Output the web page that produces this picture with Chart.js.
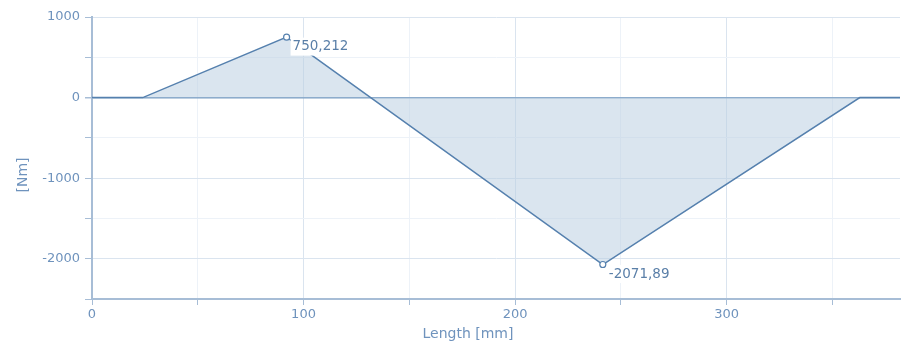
<!DOCTYPE html>
<html>
<head>
<meta charset="utf-8">
<script src="https://cdn.jsdelivr.net/npm/chart.js@4/dist/chart.umd.min.js"></script>
<style>
  html, body { margin: 0; padding: 0; background: #ffffff; }
  #wrap { width: 902px; height: 347px; position: relative; }
</style>
</head>
<body>
<div id="wrap"><canvas id="c"></canvas></div>
<script>
// Bending moment along the beam
const positions = [0, 24, 92, 241.5, 363, 382];      // Length [mm]
const moments   = [0, 0, 750.212, -2071.89, 0, 0];   // [Nm]
const labelledPoints = [2, 3];                        // indices with value labels
const xTickStep = 50;
const yTickStep = 500;
const yTitle = '[Nm]';
const xTitle = 'Length [mm]';

const axisBlue = '#a7bdd6';
const textBlue = '#6f93bd';
const lineBlue = '#5580ae';
const fontFamily = '"DejaVu Sans", Verdana, sans-serif';

const points = positions.map((x, i) => ({ x: x, y: moments[i] }));

// value labels next to the extreme points, plus both axis titles
const annotations = {
  id: 'annotations',
  afterDatasetsDraw(chart) {
    const ctx = chart.ctx;
    const meta = chart.getDatasetMeta(0);
    ctx.save();
    ctx.font = '13.5px ' + fontFamily;
    ctx.textBaseline = 'middle';
    labelledPoints.forEach(i => {
      const el = meta.data[i];
      const txt = moments[i].toString().replace('.', ',');
      const w = ctx.measureText(txt).width;
      const tx = el.x + 6, ty = el.y + 9.5;
      ctx.fillStyle = '#ffffff';
      ctx.fillRect(tx - 2, ty - 9, w + 4, 18);
      ctx.fillStyle = '#5a7fa8';
      ctx.fillText(txt, tx, ty);
    });
    ctx.restore();

    ctx.save();
    ctx.font = '14px ' + fontFamily;
    ctx.fillStyle = textBlue;
    ctx.textAlign = 'center';
    ctx.textBaseline = 'middle';
    ctx.fillText(xTitle, 468, 334);
    ctx.translate(23, 175);
    ctx.rotate(-Math.PI / 2);
    ctx.fillText(yTitle, 0, 0);
    ctx.restore();
  }
};

new Chart(document.getElementById('c'), {
  type: 'scatter',
  data: {
    datasets: [{
      data: points,
      showLine: true,
      borderColor: lineBlue,
      borderWidth: 1.5,
      backgroundColor: 'rgba(188, 208, 226, 0.55)',
      fill: 'origin',
      tension: 0,
      pointRadius: ctx => labelledPoints.includes(ctx.dataIndex) ? 3 : 0,
      pointBackgroundColor: '#ffffff',
      pointBorderColor: lineBlue,
      pointBorderWidth: 1.2
    }]
  },
  options: {
    responsive: true,
    maintainAspectRatio: false,
    animation: false,
    layout: { padding: { top: 17, right: 2, left: 0, bottom: 0 } },
    plugins: { legend: { display: false }, tooltip: { enabled: false } },
    scales: {
      x: {
        type: 'linear',
        min: positions[0],
        max: positions[positions.length - 1],
        afterBuildTicks: s => { s.ticks = s.ticks.filter(t => t.value % xTickStep === 0); },
        afterFit: s => { s.height = 48; },
        ticks: {
          stepSize: xTickStep,
          autoSkip: false,
          maxRotation: 0,
          color: textBlue,
          font: { family: fontFamily, size: 13 },
          padding: 2,
          callback: v => (v % 100 === 0 ? v : '')
        },
        grid: {
          color: c => (c.tick && c.tick.value % 100 === 0 ? '#dae4ef' : '#edf2f8'),
          lineWidth: 1,
          tickLength: 6,
          tickColor: axisBlue,
          drawTicks: true
        },
        border: { color: axisBlue, width: 2 }
      },
      y: {
        min: -2500,
        max: 1000,
        afterFit: s => { s.width = 92; },
        ticks: {
          stepSize: yTickStep,
          color: textBlue,
          font: { family: fontFamily, size: 13 },
          padding: 5,
          callback: v => (v % 1000 === 0 ? v : '')
        },
        grid: {
          color: c => {
            if (!c.tick) return '#edf2f8';
            if (c.tick.value === 0) return '#7d9fc4';
            return c.tick.value % 1000 === 0 ? '#dae4ef' : '#edf2f8';
          },
          lineWidth: c => (c.tick && c.tick.value === 0 ? 1.5 : 1),
          tickLength: 7,
          tickColor: axisBlue
        },
        border: { color: axisBlue, width: 2 }
      }
    }
  },
  plugins: [annotations]
});
</script>
</body>
</html>
